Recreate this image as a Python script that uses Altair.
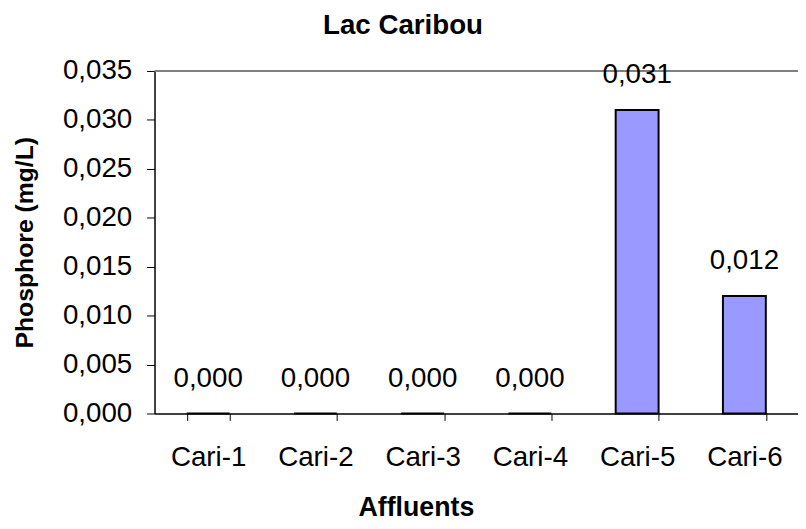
import altair as alt
import pandas as pd

categories = ["Cari-1", "Cari-2", "Cari-3", "Cari-4", "Cari-5", "Cari-6"]
values = [0.000, 0.000, 0.000, 0.000, 0.031, 0.012]
y_ticks = [0.000, 0.005, 0.010, 0.015, 0.020, 0.025, 0.030, 0.035]

df = pd.DataFrame({"cat": categories, "val": values})

FONT = "Liberation Sans"

x_enc = alt.X(
    "cat:N",
    sort=categories,
    scale=alt.Scale(paddingInner=0.6, paddingOuter=0.3),
    axis=alt.Axis(
        title="Affluents",
        titleFont=FONT, titleFontSize=27, titleFontWeight="bold", titleColor="black",
        titleX=264, titleY=103, titleBaseline="alphabetic", titleAlign="center",
        labelFont=FONT, labelFontSize=28, labelColor="black", labelAngle=0,
        labelPadding=46, labelBaseline="alphabetic",
        tickBand="extent", tickSize=7, tickColor="black", tickWidth=1,
        domainColor="black", domainWidth=1.5,
    ),
)

y_enc = alt.Y(
    "val:Q",
    scale=alt.Scale(domain=[0, 0.035], nice=False),
    axis=alt.Axis(
        title="Phosphore (mg/L)",
        titleFont=FONT, titleFontSize=25, titleFontWeight="bold", titleColor="black",
        titleX=-131, titleY=173, titleAngle=-90, titleAlign="center", titleBaseline="middle",
        values=y_ticks,
        labelExpr="replace(format(datum.value, '.3f'), '.', ',')",
        labelFont=FONT, labelFontSize=28, labelColor="black", labelPadding=15,
        tickSize=8, tickColor="black", tickWidth=1,
        domainColor="black", domainWidth=1.5, grid=False,
    ),
)

bars = alt.Chart(df).mark_bar(
    color="#9999FF", stroke="black", strokeWidth=2
).encode(x=x_enc, y=y_enc)

labels = alt.Chart(df).transform_calculate(
    lab="replace(format(datum.val, '.3f'), '.', ',')"
).mark_text(
    font=FONT, fontSize=28, color="black", baseline="alphabetic", dy=-27
).encode(
    x=alt.X("cat:N", sort=categories),
    y=alt.Y("val:Q"),
    text="lab:N",
)

top_line = alt.Chart(pd.DataFrame({"v": [y_ticks[-1]]})).mark_rule(
    color="#808080", strokeWidth=2
).encode(y=alt.Y("v:Q"))

chart = alt.layer(top_line, bars, labels).properties(
    width=650,
    height=346,
    title=alt.TitleParams(
        "Lac Caribou", font=FONT, fontSize=28, fontWeight="bold", color="black",
        anchor="middle", dx=-74, offset=17,
    ),
    autosize=alt.AutoSizeParams(type="none"),
    padding={"left": 148, "top": 61, "right": 0, "bottom": 106},
).configure_view(stroke=None)

chart.save("out.html", embed_options={"renderer": "svg", "actions": False})
